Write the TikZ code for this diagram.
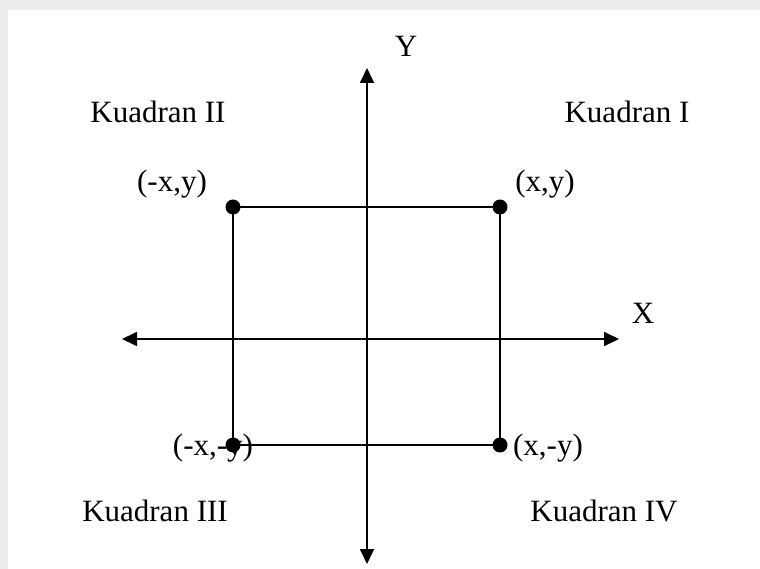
\documentclass[tikz,border=0pt]{standalone}
\usepackage{fontspec}
\setmainfont{Liberation Serif}
\usetikzlibrary{arrows.meta}
\begin{document}
\begin{tikzpicture}[x=1pt,y=-1pt,
  axis/.style={line width=1.8pt,-{Triangle[length=15pt,width=14pt]}},
  edge/.style={line width=1.8pt},
  dot/.style={circle,fill=black,inner sep=0pt,minimum size=15pt},
  lbl/.style={anchor=base,inner sep=0pt,font=\fontsize{31}{31}\selectfont}]
\useasboundingbox (0,0) rectangle (760,569);
\fill[black!7] (0,0) rectangle (760,569);
\fill[white] (8,10) rectangle (760,569);
% axes
\coordinate (ox) at (367,339);
\coordinate (xl) at (122,339);
\coordinate (xr) at (619,339);
\coordinate (yt) at (367,68);
\coordinate (yb) at (367,564);
\draw[axis] (ox) -- (xr);
\draw[axis] (ox) -- (xl);
\draw[axis] (ox) -- (yt);
\draw[axis] (ox) -- (yb);
% points
\node[dot] (A) at (233,207) {};
\node[dot] (B) at (500,207) {};
\node[dot] (C) at (233,445) {};
\node[dot] (D) at (500,445) {};
\draw[edge] (A.center) -- (B.center) -- (D.center) -- (C.center) -- cycle;
% labels
\node[lbl] (ly) at (406,57) {Y};
\node[lbl] (lx) at (643,323) {X};
\node[lbl] (q2) at (158,123) {Kuadran II};
\node[lbl] (q1) at (627,123) {Kuadran I};
\node[lbl] (q3) at (155,521) {Kuadran III};
\node[lbl] (q4) at (604,521) {Kuadran IV};
\node[lbl] (pa) at (172,192) {(-x,y)};
\node[lbl] (pb) at (545,192) {(x,y)};
\node[lbl] (pc) at (213,455) {(-x,-y)};
\node[lbl] (pd) at (548,455) {(x,-y)};
\end{tikzpicture}
\end{document}
